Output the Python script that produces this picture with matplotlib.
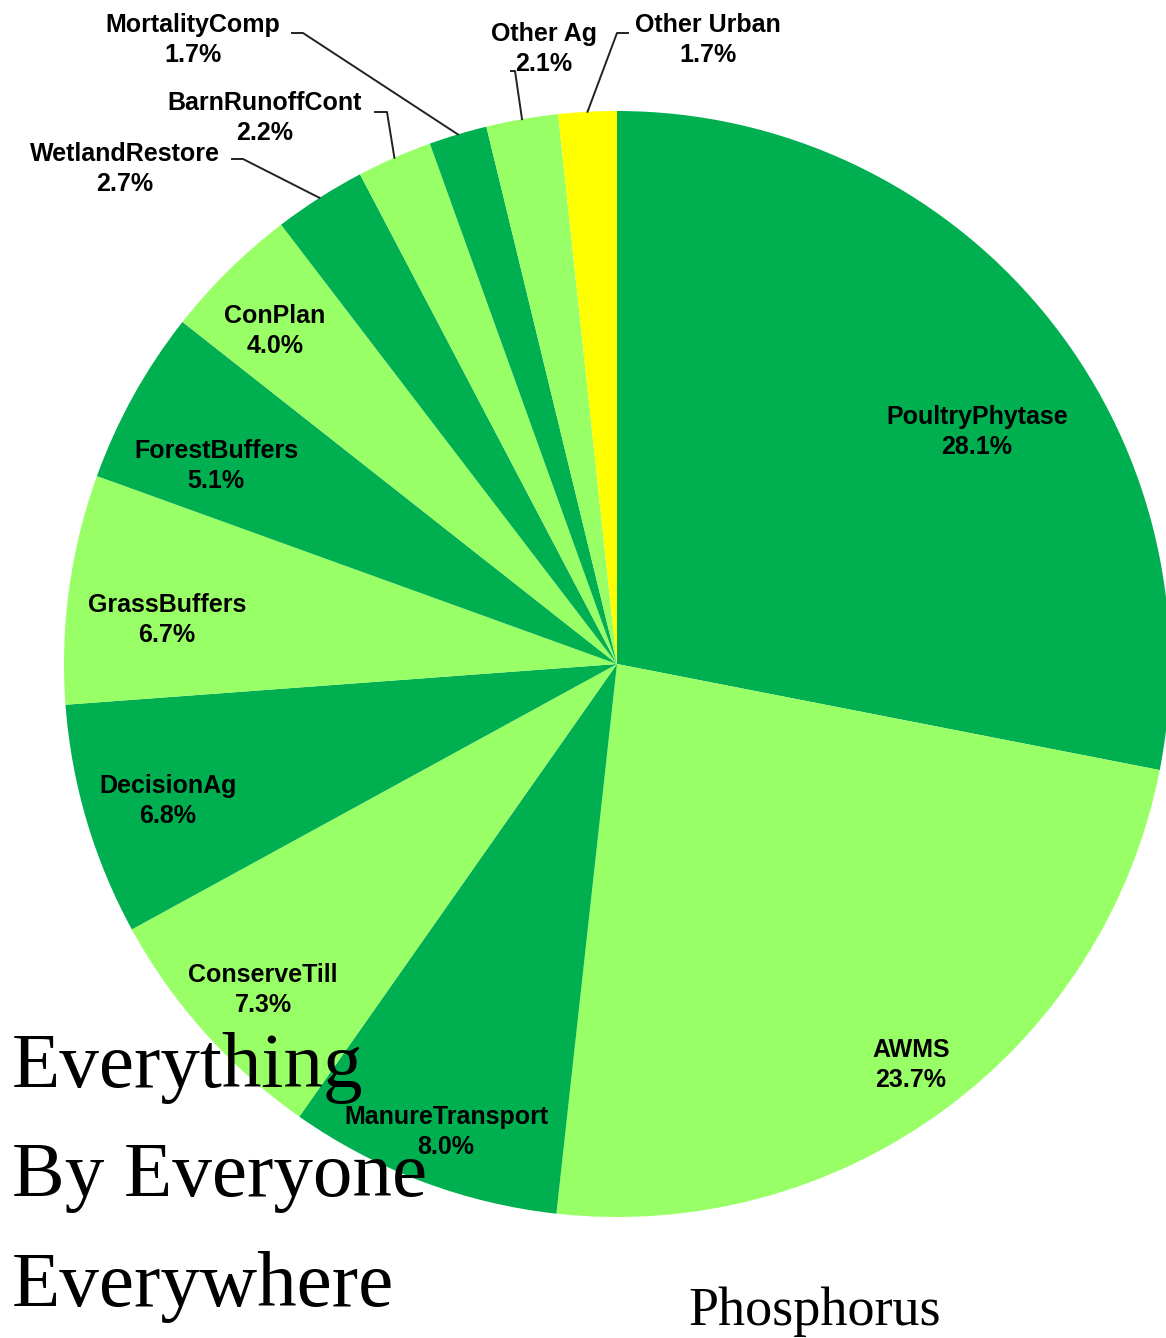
import matplotlib.pyplot as plt
import numpy as np

# phosphorus reduction share by practice
practices = ["PoultryPhytase", "AWMS", "ManureTransport", "ConserveTill", "DecisionAg",
             "GrassBuffers", "ForestBuffers", "ConPlan", "WetlandRestore", "BarnRunoffCont",
             "MortalityComp", "Other Ag", "Other Urban"]
shares = [28.1, 23.7, 8.0, 7.3, 6.8, 6.7, 5.1, 4.0, 2.7, 2.2, 1.7, 2.1, 1.7]

dark = "#00B050"
light = "#99FF66"
yellow = "#FFFF00"
colors = [dark, light] * 6 + [yellow]

# label centres in pixels
label_xy = [(977, 432), (911, 1065), (446, 1132), (263, 990), (168, 801),
            (167, 620), (216, 466), (275, 331), (125, 169), (265, 118),
            (193, 40), (544, 49), (708, 40)]
# leader line stubs (start, elbow) for the small outer labels
leaders = {
    "WetlandRestore": ((232, 159), (243, 159)),
    "BarnRunoffCont": ((375, 112), (387, 112)),
    "MortalityComp": ((292, 33), (303, 33)),
    "Other Ag": ((511, 71), (515, 71)),
    "Other Urban": ((628, 33), (617, 33)),
}

W, H = 1166, 1338
cx, cy, R = 617, 664, 553

fig = plt.figure(figsize=(W / 100, H / 100), dpi=100)
ax = fig.add_axes([0, 0, 1, 1])

# y runs downward, so counterclock=True draws clockwise on screen
wedges, _ = ax.pie(shares, colors=colors, startangle=-90, counterclock=True,
                   center=(cx, cy), radius=R, wedgeprops=dict(linewidth=0))
ax.set_xlim(0, W)
ax.set_ylim(H, 0)
ax.set_aspect("equal")
ax.axis("off")

for name, val, (lx, ly), w in zip(practices, shares, label_xy, wedges):
    ax.text(lx, ly, f"{name}\n{val:.1f}%", ha="center", va="center",
            fontsize=18, fontweight="bold", family="Liberation Sans",
            linespacing=1.35, color="black", zorder=5)
    if name in leaders:
        mid = np.deg2rad((w.theta1 + w.theta2) / 2)
        ex, ey = cx + R * np.cos(mid), cy + R * np.sin(mid)
        (sx, sy), (bx, by) = leaders[name]
        ax.plot([sx, bx, ex], [sy, by, ey], color="#222222", lw=1.4, zorder=4)

serif = "Liberation Serif"
for txt, y in zip(["Everything", "By Everyone", "Everywhere"], [1087, 1196, 1306]):
    ax.text(12, y, txt, fontsize=57, family=serif, ha="left", va="baseline", zorder=6)
ax.text(688, 1325, "Phosphorus", fontsize=39, family=serif, ha="left", va="baseline", zorder=6)

plt.savefig("out.png", dpi=100)
